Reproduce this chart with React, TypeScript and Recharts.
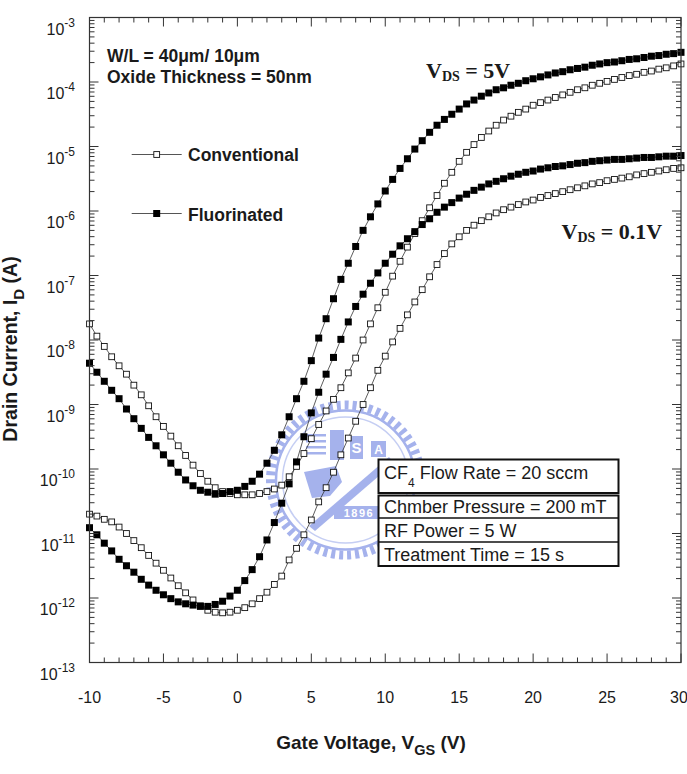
import { LineChart, Line, XAxis, YAxis } from "recharts";

// gate voltage sweep (V)
const vgs = [
  -10, -9.5, -9, -8.5, -8, -7.5, -7, -6.5, -6, -5.5,
  -5, -4.5, -4, -3.5, -3, -2.5, -2, -1.5, -1, -0.5,
  0, 0.5, 1, 1.5, 2, 2.5, 3, 3.5, 4, 4.5,
  5, 5.5, 6, 6.5, 7, 7.5, 8, 8.5, 9, 9.5,
  10, 10.5, 11, 11.5, 12, 12.5, 13, 13.5, 14, 14.5,
  15, 15.5, 16, 16.5, 17, 17.5, 18, 18.5, 19, 19.5,
  20, 20.5, 21, 21.5, 22, 22.5, 23, 23.5, 24, 24.5,
  25, 25.5, 26, 26.5, 27, 27.5, 28, 28.5, 29, 29.5,
  30,
];

// log10 of drain current (A)
const convVd5 = [
  -7.75, -7.94, -8.10, -8.26, -8.40, -8.53, -8.70, -8.85, -9.02, -9.19,
  -9.34, -9.49, -9.64, -9.79, -9.94, -10.07, -10.19, -10.29, -10.35, -10.38,
  -10.40, -10.40, -10.40, -10.38, -10.35, -10.31, -10.25, -10.12, -9.96, -9.76,
  -9.53, -9.31, -9.10, -8.92, -8.74, -8.51, -8.28, -8.00, -7.75, -7.50,
  -7.26, -7.01, -6.78, -6.56, -6.35, -6.15, -5.95, -5.76, -5.57, -5.40,
  -5.23, -5.09, -4.97, -4.86, -4.76, -4.67, -4.59, -4.53, -4.47, -4.42,
  -4.36, -4.32, -4.28, -4.24, -4.20, -4.16, -4.12, -4.09, -4.05, -4.02,
  -3.99, -3.96, -3.93, -3.90, -3.88, -3.85, -3.83, -3.80, -3.78, -3.75,
  -3.72,
];
const fluoVd5 = [
  -8.36, -8.50, -8.64, -8.78, -8.91, -9.07, -9.22, -9.37, -9.51, -9.64,
  -9.78, -9.91, -10.05, -10.17, -10.26, -10.33, -10.36, -10.39, -10.38, -10.35,
  -10.33, -10.27, -10.19, -10.08, -9.91, -9.71, -9.47, -9.19, -8.91, -8.64,
  -8.32, -7.97, -7.67, -7.36, -7.06, -6.81, -6.55, -6.30, -6.09, -5.89,
  -5.69, -5.51, -5.34, -5.19, -5.04, -4.91, -4.78, -4.67, -4.58, -4.50,
  -4.42, -4.34, -4.28, -4.22, -4.17, -4.12, -4.09, -4.05, -4.02, -3.98,
  -3.95, -3.92, -3.89, -3.86, -3.84, -3.81, -3.79, -3.77, -3.74, -3.72,
  -3.70, -3.69, -3.67, -3.65, -3.64, -3.62, -3.60, -3.59, -3.57, -3.56,
  -3.54,
];
const convVd01 = [
  -10.70, -10.73, -10.78, -10.82, -10.90, -11.00, -11.11, -11.22, -11.34, -11.46,
  -11.57, -11.69, -11.81, -11.92, -12.03, -12.12, -12.19, -12.22, -12.23, -12.22,
  -12.19, -12.15, -12.09, -12.01, -11.91, -11.79, -11.66, -11.41, -11.23, -11.02,
  -10.79, -10.51, -10.29, -10.05, -9.78, -9.52, -9.26, -9.00, -8.74, -8.47,
  -8.25, -8.03, -7.82, -7.61, -7.41, -7.22, -7.02, -6.83, -6.66, -6.51,
  -6.40, -6.30, -6.22, -6.15, -6.09, -6.03, -5.98, -5.94, -5.90, -5.86,
  -5.83, -5.79, -5.76, -5.73, -5.70, -5.67, -5.64, -5.61, -5.58, -5.56,
  -5.53, -5.51, -5.49, -5.47, -5.44, -5.42, -5.40, -5.38, -5.36, -5.34,
  -5.33,
];
const fluoVd01 = [
  -10.91, -11.02, -11.15, -11.27, -11.40, -11.50, -11.60, -11.71, -11.80, -11.88,
  -11.95, -12.01, -12.06, -12.09, -12.11, -12.13, -12.13, -12.10, -12.05, -11.97,
  -11.88, -11.73, -11.56, -11.36, -11.10, -10.83, -10.53, -10.23, -9.89, -9.50,
  -9.13, -8.81, -8.53, -8.27, -7.99, -7.72, -7.48, -7.29, -7.12, -6.96,
  -6.81, -6.67, -6.54, -6.43, -6.32, -6.21, -6.12, -6.02, -5.94, -5.87,
  -5.80, -5.74, -5.68, -5.63, -5.58, -5.54, -5.50, -5.46, -5.43, -5.40,
  -5.38, -5.35, -5.33, -5.31, -5.30, -5.28, -5.26, -5.25, -5.23, -5.22,
  -5.21, -5.20, -5.20, -5.19, -5.18, -5.17, -5.17, -5.16, -5.15, -5.15,
  -5.14,
];

// axis ticks
const xTicks = [
  -10, -9, -8, -7, -6, -5, -4, -3, -2, -1, 0, 1, 2, 3, 4, 5, 6, 7, 8, 9, 10,
  11, 12, 13, 14, 15, 16, 17, 18, 19, 20, 21, 22, 23, 24, 25, 26, 27, 28, 29, 30,
];
const yDecades = [-13, -12, -11, -10, -9, -8, -7, -6, -5, -4, -3];
const yMinorSteps = [2, 3, 4, 5, 6, 7, 8, 9];

const yTicks: number[] = [];
yDecades.forEach((d) => {
  yTicks.push(10 ** d);
  if (d < -3) yMinorSteps.forEach((k) => yTicks.push(k * 10 ** d));
});

const data = vgs.map((v, i) => ({
  vgs: v,
  conv5: 10 ** convVd5[i],
  fluo5: 10 ** fluoVd5[i],
  conv01: 10 ** convVd01[i],
  fluo01: 10 ** fluoVd01[i],
}));

const W = 687;
const H = 774;
const PLOT = { left: 89.5, right: 681, top: 17.5, bottom: 662.5 };
const SANS = "'Liberation Sans', Arial, sans-serif";
const SERIF = "'Liberation Serif', 'Times New Roman', serif";
const INK = "#1a1a1a";

function XTick(props: any) {
  const { x, payload } = props;
  const v = payload.value;
  const major = v % 5 === 0;
  const len = major ? 9 : 5;
  return (
    <g>
      <line x1={x} x2={x} y1={PLOT.bottom} y2={PLOT.bottom - len} stroke="#333" />
      <line x1={x} x2={x} y1={PLOT.top} y2={PLOT.top + len} stroke="#333" />
      {major && (
        <text x={v === 30 ? x - 2 : x} y={703} textAnchor="middle" fontSize={16} fontFamily={SANS} fill={INK}>
          {v}
        </text>
      )}
    </g>
  );
}

function YTick(props: any) {
  const { y, payload } = props;
  const lg = Math.log10(payload.value);
  const e = Math.round(lg);
  const major = Math.abs(lg - e) < 1e-6;
  const len = major ? 9 : 5;
  return (
    <g>
      <line x1={PLOT.left} x2={PLOT.left + len} y1={y} y2={y} stroke="#333" />
      <line x1={PLOT.right} x2={PLOT.right - len} y1={y} y2={y} stroke="#333" />
      {major && (
        <text x={75} y={y + 17} textAnchor="end" fontSize={16} fontFamily={SANS} fill={INK}>
          <tspan>10</tspan>
          <tspan dy={-8} fontSize={12}>{e}</tspan>
        </text>
      )}
    </g>
  );
}

const hollowDot = (p: any) => {
  if (p.cx == null || p.cy == null) return <g key={`h${p.index}`} />;
  return (
    <rect
      key={`h${p.index}`}
      x={p.cx - 2.9}
      y={p.cy - 2.9}
      width={5.8}
      height={5.8}
      fill="#fff"
      stroke="#111"
      strokeWidth={0.9}
    />
  );
};

const filledDot = (p: any) => {
  if (p.cx == null || p.cy == null) return <g key={`f${p.index}`} />;
  return <rect key={`f${p.index}`} x={p.cx - 3.5} y={p.cy - 3.5} width={7} height={7} fill="#000" />;
};

// faint university seal behind the curves
function Seal() {
  const c = "#a5b2ec";
  const cx = 345.5;
  const cy = 480;
  return (
    <svg width={W} height={H} style={{ position: "absolute", left: 0, top: 0 }}>
      <circle cx={cx} cy={cy} r={75} fill="none" stroke={c} strokeWidth={9} strokeDasharray="4 4" />
      <circle cx={cx} cy={cy} r={69.5} fill="none" stroke={c} strokeWidth={2.5} />
      <circle cx={cx} cy={cy} r={63} fill="none" stroke="#c5cef3" strokeWidth={1.5} />
      <g fill={c}>
        <rect x={306} y={434} width={20} height={2.5} />
        <rect x={306} y={440} width={20} height={2.5} />
        <rect x={306} y={446} width={20} height={2.5} />
        <rect x={306} y={452} width={20} height={2.5} />
        <rect x={330} y={430} width={14} height={30} />
        <rect x={350} y={436} width={13} height={23} />
        <rect x={371} y={441} width={15} height={16} />
        <polygon points="304,472 336,466 342,482 330,496 312,498" />
        <polygon points="309,526 315,531 394,463 389,457" />
        <rect x={334} y={506} width={50} height={13} />
      </g>
      <text x={356.5} y={453} textAnchor="middle" fontSize={15} fontWeight="bold" fontFamily={SANS} fill="#fff">
        S
      </text>
      <text x={378.5} y={454} textAnchor="middle" fontSize={12} fontWeight="bold" fontFamily={SANS} fill="#fff">
        A
      </text>
      <text x={359} y={517} textAnchor="middle" fontSize={11} fontWeight="bold" fontFamily={SANS} fill="#fff" letterSpacing={1.5}>
        1896
      </text>
    </svg>
  );
}

function Overlay() {
  const boxX = 378.5;
  const boxW = 240;
  return (
    <svg width={W} height={H} style={{ position: "absolute", left: 0, top: 0, pointerEvents: "none" }}>
      <rect
        x={PLOT.left}
        y={PLOT.top}
        width={PLOT.right - PLOT.left}
        height={PLOT.bottom - PLOT.top}
        fill="none"
        stroke="#333"
        strokeWidth={1.2}
      />

      {/* device notes */}
      <text x={107} y={61.5} fontSize={17.5} fontWeight="bold" fontFamily={SANS} fill={INK}>
        W/L = 40μm/ 10μm
      </text>
      <text x={107} y={82.5} fontSize={17.5} fontWeight="bold" fontFamily={SANS} fill={INK}>
        Oxide Thickness = 50nm
      </text>

      {/* legend */}
      <line x1={131.7} x2={181.7} y1={154.5} y2={154.5} stroke="#555" strokeWidth={1} />
      <rect x={153.8} y={151.6} width={5.8} height={5.8} fill="#fff" stroke="#111" strokeWidth={0.9} />
      <text x={188} y={161} fontSize={17.5} fontWeight="bold" fontFamily={SANS} fill={INK}>
        Conventional
      </text>
      <line x1={131.7} x2={181.7} y1={213.5} y2={213.5} stroke="#555" strokeWidth={1} />
      <rect x={153.2} y={210} width={7} height={7} fill="#000" />
      <text x={188} y={220.5} fontSize={17.5} fontWeight="bold" fontFamily={SANS} fill={INK}>
        Fluorinated
      </text>

      {/* drain bias labels */}
      <text x={426} y={78} fontSize={22} fontWeight="bold" fontFamily={SERIF} fill={INK}>
        V<tspan fontSize={14} dy={3}>DS</tspan>
        <tspan dy={-3}> = 5V</tspan>
      </text>
      <text x={561.5} y={238.5} fontSize={22} fontWeight="bold" fontFamily={SERIF} fill={INK}>
        V<tspan fontSize={14} dy={3}>DS</tspan>
        <tspan dy={-3}> = 0.1V</tspan>
      </text>

      {/* process conditions */}
      <rect x={boxX} y={459.5} width={boxW} height={33.5} fill="#fff" stroke="#111" strokeWidth={2} />
      <rect x={boxX} y={495.5} width={boxW} height={70.5} fill="#fff" stroke="#111" strokeWidth={2} />
      <line x1={boxX} x2={boxX + boxW} y1={518} y2={518} stroke="#111" strokeWidth={1.5} />
      <line x1={boxX} x2={boxX + boxW} y1={542} y2={542} stroke="#111" strokeWidth={1.5} />
      <text x={384} y={479} fontSize={18} fontFamily={SANS} fill={INK}>
        CF<tspan fontSize={12} dy={8}>4</tspan>
        <tspan dy={-8}> Flow Rate = 20 sccm</tspan>
      </text>
      <text x={384} y={512.5} fontSize={18} fontFamily={SANS} fill={INK}>
        Chmber Pressure = 200 mT
      </text>
      <text x={384} y={536.5} fontSize={18} fontFamily={SANS} fill={INK}>
        RF Power = 5 W
      </text>
      <text x={384} y={560.5} fontSize={18} fontFamily={SANS} fill={INK}>
        Treatment Time = 15 s
      </text>

      {/* axis titles */}
      <text x={371} y={749} textAnchor="middle" fontSize={19} fontWeight="bold" fontFamily={SANS} fill={INK}>
        Gate Voltage, V<tspan fontSize={14.5} dy={6}>GS</tspan>
        <tspan dy={-6}> (V)</tspan>
      </text>
      <text
        x={17}
        y={349}
        transform="rotate(-90, 17, 349)"
        textAnchor="middle"
        fontSize={19.5}
        fontWeight="bold"
        fontFamily={SANS}
        fill={INK}
      >
        Drain Current, I<tspan fontSize={15} dy={7}>D</tspan>
        <tspan dy={-7}> (A)</tspan>
      </text>
    </svg>
  );
}

export default function App() {
  return (
    <div style={{ position: "absolute", left: 0, top: 0, width: W, height: H, background: "#fff" }}>
      <Seal />
      <div style={{ position: "absolute", left: 0, top: 0 }}>
        <LineChart
          width={W}
          height={H}
          data={data}
          margin={{ top: PLOT.top, right: W - PLOT.right, bottom: H - PLOT.bottom - 40, left: PLOT.left - 60 }}
        >
          <XAxis
            dataKey="vgs"
            type="number"
            domain={[-10, 30]}
            ticks={xTicks}
            interval={0}
            height={40}
            axisLine={false}
            tickLine={false}
            tick={(p: any) => <XTick {...p} />}
          />
          <YAxis
            type="number"
            scale="log"
            domain={[1e-13, 1e-3]}
            allowDataOverflow
            ticks={yTicks}
            interval={0}
            width={60}
            axisLine={false}
            tickLine={false}
            tick={(p: any) => <YTick {...p} />}
          />
          <Line dataKey="conv01" stroke="#333" strokeWidth={0.8} dot={hollowDot} activeDot={false} isAnimationActive={false} />
          <Line dataKey="conv5" stroke="#333" strokeWidth={0.8} dot={hollowDot} activeDot={false} isAnimationActive={false} />
          <Line dataKey="fluo01" stroke="#333" strokeWidth={0.8} dot={filledDot} activeDot={false} isAnimationActive={false} />
          <Line dataKey="fluo5" stroke="#333" strokeWidth={0.8} dot={filledDot} activeDot={false} isAnimationActive={false} />
        </LineChart>
      </div>
      <Overlay />
    </div>
  );
}
